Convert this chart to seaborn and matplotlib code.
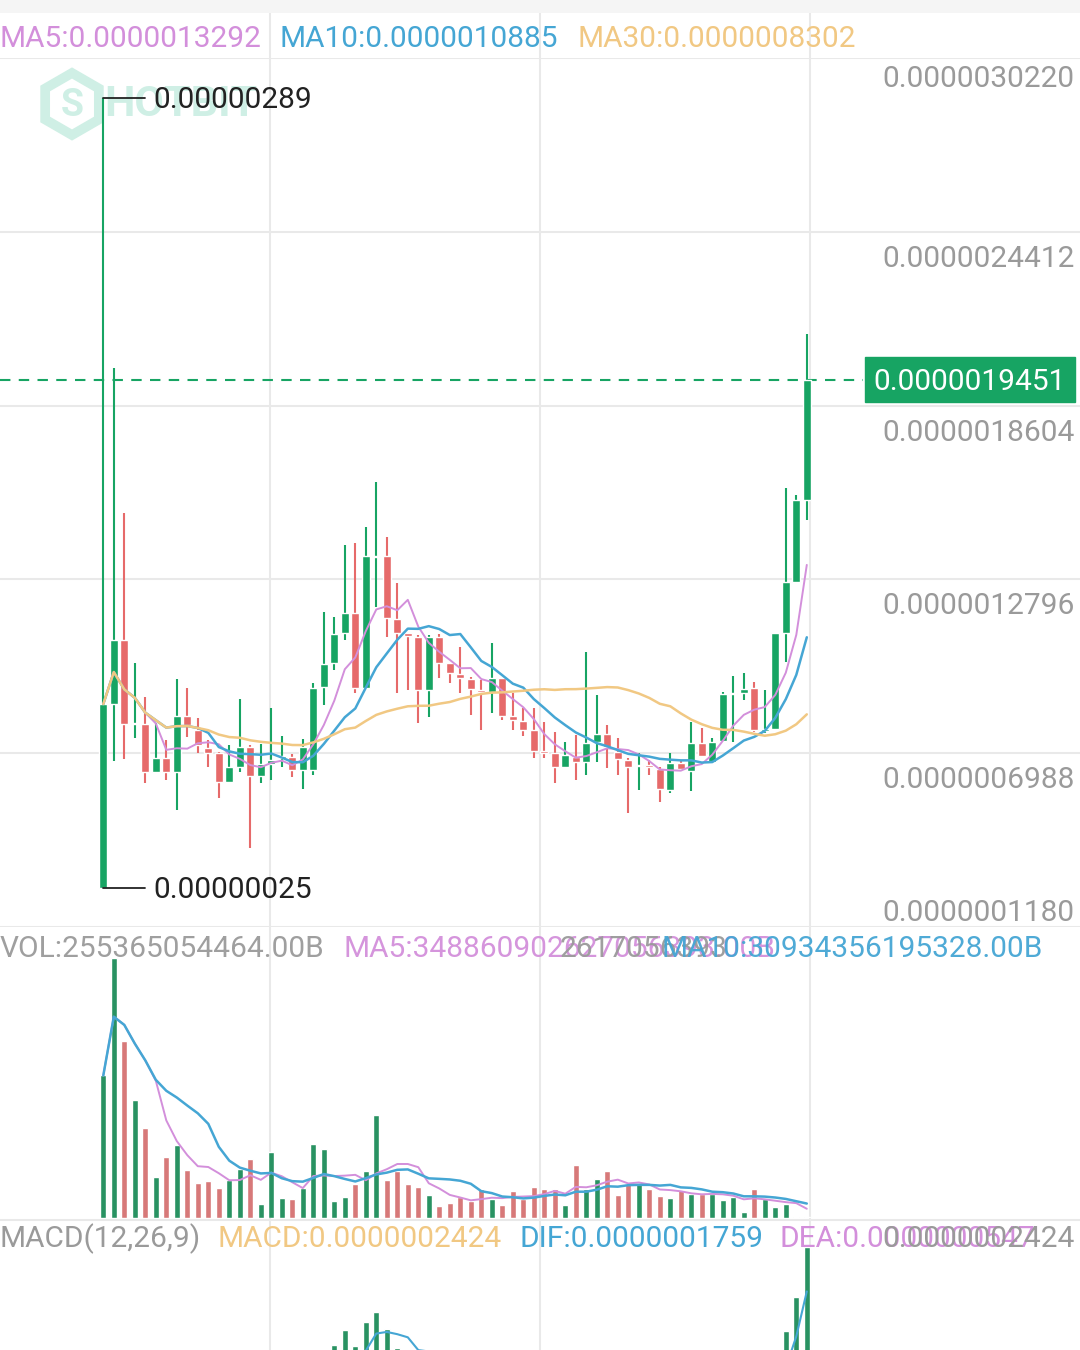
import numpy as np
import pandas as pd
import matplotlib.pyplot as plt
import seaborn as sns
from matplotlib.patches import RegularPolygon, Rectangle
from matplotlib.transforms import blended_transform_factory

# --------------------------
# Data (prices in units of 1e-10)
# --------------------------
opens = [2500, 8631, 10770, 7962, 7962, 6358, 6826, 6358, 8229, 7761,
         7160, 6993, 6024, 6525, 7193, 6225, 6625, 6826, 6860, 6425,
         6425, 9198, 10000, 11003, 11672, 9165, 13543, 13577, 11471, 11003,
         10869, 9098, 10869, 10000, 9633, 9466, 9098, 9031, 9500, 8229,
         8062, 7761, 7060, 6993, 6525, 6860, 6692, 7361, 7627, 7026,
         6759, 6558, 6598, 6458, 5755, 6658, 6391, 7327, 6692, 7398,
         8965, 8998, 9165, 7728, 7794, 11003, 12706, 15448]
highs = [28900, 19860, 15014, 10001, 8864, 7995, 7427, 9466, 9165, 8162,
         7427, 7026, 7260, 8797, 7260, 7293, 8497, 7561, 6959, 7460,
         9332, 11705, 11538, 13944, 14011, 14546, 16050, 14212, 12674, 11003,
         10936, 10936, 10969, 10000, 10535, 9533, 9432, 10669, 9500, 8998,
         8497, 8497, 8029, 7694, 7361, 7594, 10368, 8931, 7929, 7494,
         6826, 6993, 6759, 6525, 6993, 6759, 8029, 7828, 7494, 9031,
         9566, 9667, 9365, 9098, 11003, 15849, 15615, 20996]
lows = [2500, 6726, 6793, 7494, 5990, 6324, 6089, 5088, 7527, 6993,
        6525, 5489, 5990, 6358, 3818, 5990, 6089, 6525, 6191, 5789,
        6258, 8597, 9767, 10769, 8998, 9165, 11872, 10869, 8998, 9098,
        7995, 8196, 9500, 9332, 8998, 8262, 7761, 8329, 8095, 7761,
        7561, 6826, 6826, 5990, 6492, 6089, 6258, 6692, 6492, 6258,
        4987, 5755, 6258, 5355, 5656, 6425, 5722, 6860, 6658, 7361,
        7361, 8764, 7694, 7661, 7761, 10035, 12706, 14780]
closes = [8631, 10770, 7962, 7995, 6358, 6826, 6358, 8229, 7929, 7260,
          6993, 6024, 6525, 7193, 6225, 6625, 6759, 6893, 6425, 7193,
          9165, 9967, 10969, 11672, 9165, 13577, 13577, 11505, 11003, 10903,
          9098, 10869, 10000, 9667, 9500, 9131, 9031, 9500, 8229, 8095,
          7761, 7060, 6993, 6525, 6926, 6692, 7327, 7627, 7193, 6793,
          6525, 6592, 6525, 5789, 6658, 6458, 7327, 6893, 7361, 8965,
          8998, 9131, 7761, 7794, 11003, 12706, 15448, 19451]
volume = [142, 259, 176, 118, 90, 41, 61, 73, 48, 35,
          37, 30, 38, 49, 59, 14, 66, 20, 19, 30,
          74, 69, 17, 21, 34, 47, 103, 38, 47, 34,
          31, 23, 12, 15, 21, 17, 29, 19, 13, 27,
          19, 31, 29, 29, 13, 53, 29, 39, 47, 23,
          34, 34, 29, 22, 20, 28, 24, 24, 24, 18,
          21, 6, 29, 19, 11, 14, 1, 1]

price_ticks = [30220, 24412, 18604, 12796, 6988, 1180]
ma_labels = ["MA5:0.0000013292", "MA10:0.0000010885", "MA30:0.0000008302"]
vol_labels = ["VOL:255365054464.00B", "MA5:348860902627056393.00B", "2617056393", "MA10:30934356195328.00B"]
macd_labels = ["MACD(12,26,9)", "MACD:0.0000002424", "DIF:0.0000001759", "DEA:0.0000000547", "0.0000002424"]

# --------------------------
# Style
# --------------------------
W, H = 1080, 1350
GREEN = "#17a463"
RED = "#e66a6a"
PINK = "#d38fdb"
BLUE = "#45a6d4"
ORANGE = "#f1c883"
GREY = "#9a9a9a"
GRID = "#e9e9e9"
FS = 21.5

sns.set_style("white")
plt.rcParams["font.family"] = ["Roboto", "DejaVu Sans"]

fig = plt.figure(figsize=(W / 100, H / 100), dpi=100)


def rect(top, bottom):
    return [0, 1 - bottom / H, 1, (bottom - top) / H]


n = len(closes)
idx = np.arange(n)
x0, step = 103.3, 10.5
xlim = (-x0 / step, (W - x0) / step)

o = np.array(opens, float)
h = np.array(highs, float)
l = np.array(lows, float)
c = np.array(closes, float)
up = c >= o
colors = np.where(up, GREEN, RED)

# background: top band, vertical grid lines, separators (pixel coords)
bg = fig.add_axes([0, 0, 1, 1], zorder=0)
bg.set_xlim(0, W)
bg.set_ylim(H, 0)
bg.axis("off")
bg.axhspan(0, 13, color="#f5f5f5", lw=0)
bg.vlines([270, 540, 810], 13, H, color=GRID, lw=1.5)
bg.hlines(1219.5, 0, W, color=GRID, lw=1.5)

# watermark logo
wm = "#cfefe5"
bg.add_patch(RegularPolygon((72, 104), numVertices=6, radius=31, fill=False, ec=wm, lw=7))
bg.text(72, 105, "S", fontsize=27, fontweight="bold", color=wm, ha="center", va="center")
bg.text(104, 105, "HOTBIT", fontsize=31, fontweight="bold", color=wm, va="center")

# --------------------------
# Price panel
# --------------------------
ax = fig.add_axes(rect(58, 927), zorder=2)
ax.set_facecolor("none")
ax.set_xlim(*xlim)
ax.set_ylim(1180, 30220)
ax.set_yticks(price_ticks)
ax.set_xticks([])
ax.grid(axis="y", color=GRID, lw=1.5)
ax.tick_params(left=False, labelleft=False)
for sp in ax.spines.values():
    sp.set_visible(False)

ax.vlines(idx, l, h, colors=colors, lw=1.5, zorder=3)
ax.bar(idx, np.maximum(np.abs(c - o), 50), bottom=np.minimum(o, c), width=0.78,
       color=colors, zorder=3)

s = pd.Series(c)
for w, col, lw in [(5, PINK, 1.4), (10, BLUE, 1.8), (30, ORANGE, 1.8)]:
    sns.lineplot(x=idx, y=s.rolling(w, min_periods=1).mean().values, color=col,
                 lw=lw, ax=ax, zorder=4)
ax.set_xlim(*xlim)
ax.set_ylim(1180, 30220)

# last price line + tag
ax.axhline(c[-1], xmin=0, xmax=863 / W, color=GREEN, lw=1.5, ls=(0, (5, 4)), zorder=2)
upp = (30220 - 1180) / (927 - 58)
tr = blended_transform_factory(ax.transAxes, ax.transData)
ax.add_patch(Rectangle((865 / W, c[-1] - 22 * upp), 210 / W, 45 * upp, transform=tr,
                       color=GREEN, zorder=5, clip_on=False))
ax.annotate(f"{c[-1] * 1e-10:.10f}", xy=(1066 / W, c[-1]), xycoords=tr,
            xytext=(0, -2), textcoords="offset pixels", ha="right", va="center",
            color="white", fontsize=FS, zorder=6)

# y labels
for v in price_ticks:
    off = 21 if v == price_ticks[0] else (-14 if v == price_ticks[-1] else 27)
    ax.annotate(f"{v * 1e-10:.10f}", xy=(1075 / W, v), xycoords=("axes fraction", "data"),
                xytext=(0, -off), textcoords="offset pixels", ha="right", va="center",
                color=GREY, fontsize=FS)

# high / low markers
for j, v in [(int(np.argmax(h)), h.max()), (int(np.argmin(l)), l.min())]:
    ax.plot([j, j + 4], [v, v], color="#222222", lw=1.3, zorder=5)
    ax.annotate(f"{v * 1e-10:.8f}", xy=(j + 4.75, v), xytext=(0, -2), textcoords="offset pixels",
                va="center", color="#222222", fontsize=FS, zorder=5)

for x, txt, col in zip([0, 279, 577], ma_labels, [PINK, BLUE, ORANGE]):
    fig.text(x / W, 1 - 39 / H, txt, color=col, fontsize=FS, va="center")

# --------------------------
# Volume panel
# --------------------------
axv = fig.add_axes(rect(958, 1218), zorder=2)
axv.set_facecolor("none")
vol = pd.Series(np.array(volume, float))
sns.barplot(x=idx, y=vol.values, hue=np.where(up, "up", "down"),
            palette={"up": GREEN, "down": RED}, native_scale=True, dodge=False,
            width=0.55, errorbar=None, legend=False, ax=axv, zorder=3)
sns.lineplot(x=idx, y=vol.rolling(5, min_periods=1).mean().values, color=PINK, lw=1.4, ax=axv, zorder=4)
sns.lineplot(x=idx, y=vol.rolling(10, min_periods=1).mean().values, color=BLUE, lw=1.8, ax=axv, zorder=4)
axv.set_xlim(*xlim)
axv.set_ylim(0, vol.max())
axv.axis("off")

for x, txt, col, ha in zip([0, 343, 560, 1043], vol_labels, [GREY, PINK, GREY, BLUE],
                           ["left", "left", "left", "right"]):
    fig.text(x / W, 1 - 949 / H, txt, color=col, fontsize=FS, va="center", ha=ha, alpha=0.95)

# --------------------------
# MACD panel (zero line falls below the visible area)
# --------------------------
ema12 = s.ewm(span=12, adjust=False).mean()
ema26 = s.ewm(span=26, adjust=False).mean()
dif = ema12 - ema26
dea = dif.ewm(span=9, adjust=False).mean()
hist = 2 * (dif - dea)

axm = fig.add_axes(rect(1247, 1470), zorder=2)
axm.set_facecolor("none")
sns.barplot(x=idx, y=hist.values, hue=np.where(hist.values >= 0, "pos", "neg"),
            palette={"pos": GREEN, "neg": RED}, native_scale=True, dodge=False,
            width=0.6, errorbar=None, legend=False, ax=axm, zorder=3)
sns.lineplot(x=idx, y=dif.values, color=BLUE, lw=1.5, ax=axm, zorder=4)
sns.lineplot(x=idx, y=dea.values, color=PINK, lw=1.5, ax=axm, zorder=4)
top = hist.max()
axm.set_xlim(*xlim)
axm.set_ylim(-top * (1470 - 1408) / (1408 - 1247), top)
axm.axis("off")

for x, txt, col, ha in zip([0, 217, 519, 780, 1075], macd_labels,
                           [GREY, ORANGE, BLUE, PINK, GREY],
                           ["left", "left", "left", "left", "right"]):
    fig.text(x / W, 1 - 1239 / H, txt, color=col, fontsize=FS, va="center", ha=ha)

fig.savefig("out.png", dpi=100, facecolor="white")
